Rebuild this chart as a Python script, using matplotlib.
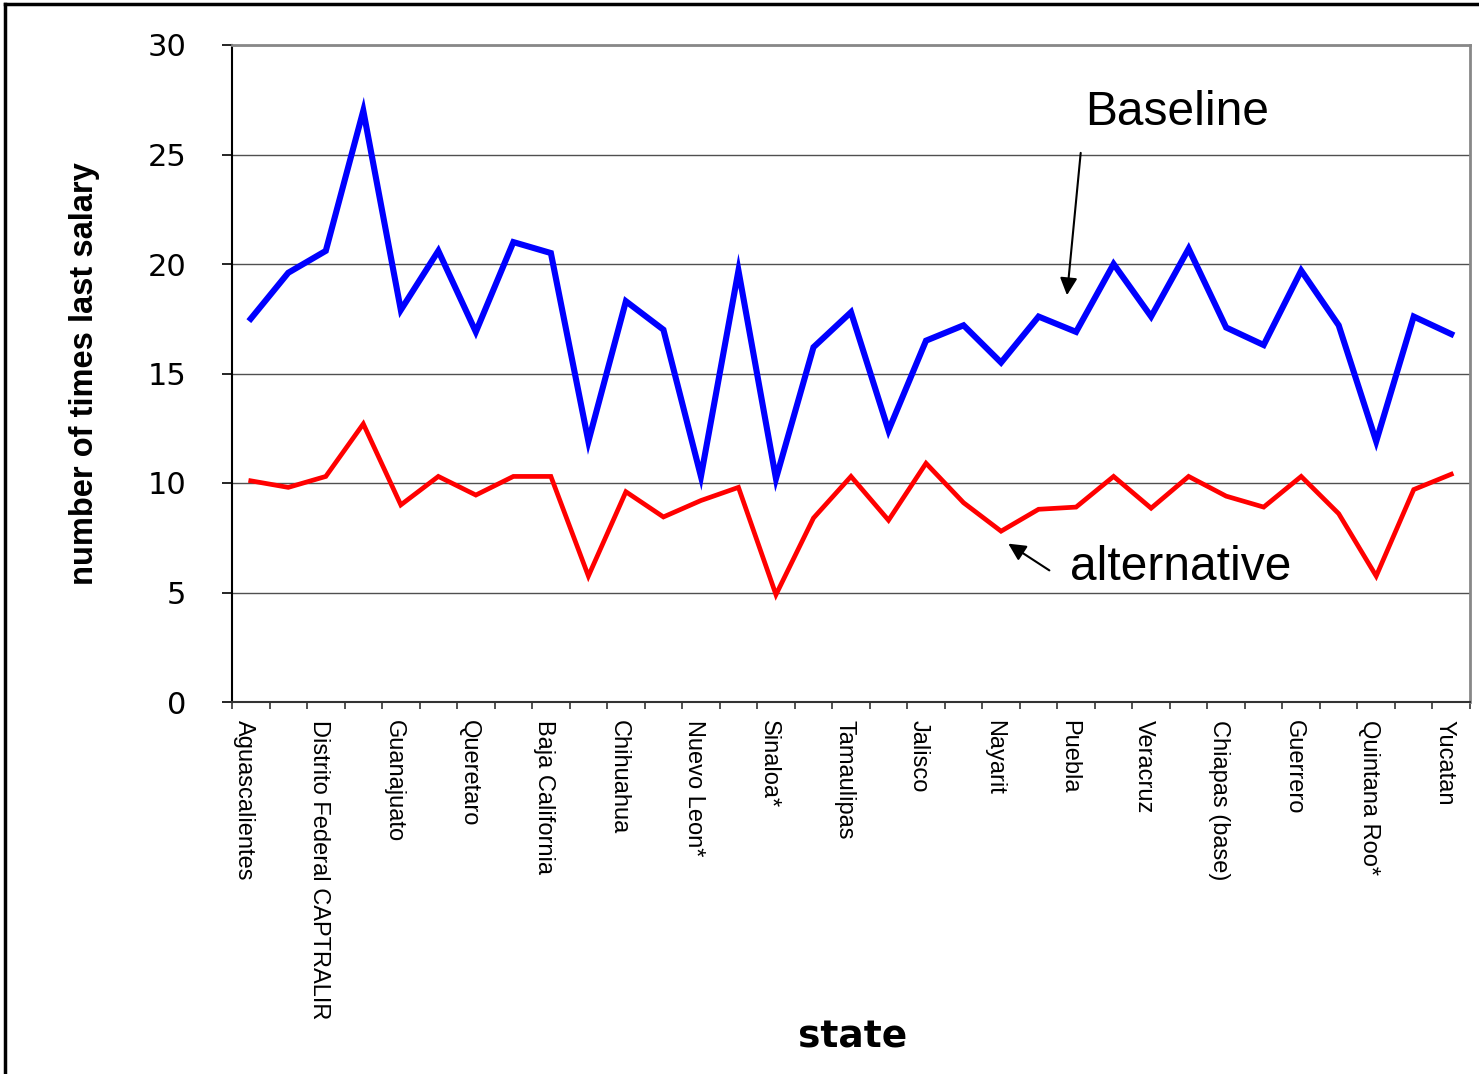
import numpy as np
import matplotlib
matplotlib.use("Agg")
import matplotlib.pyplot as plt
import matplotlib.transforms as mtransforms
from matplotlib.lines import Line2D
from matplotlib.ticker import FixedLocator

# Labelled states (every other category carries a label on the axis)
labelled_states = [
    "Aguascalientes", "Distrito Federal CAPTRALIR", "Guanajuato", "Queretaro",
    "Baja California", "Chihuahua", "Nuevo Leon*", "Sinaloa*", "Tamaulipas",
    "Jalisco", "Nayarit", "Puebla", "Veracruz", "Chiapas (base)", "Guerrero",
    "Quintana Roo*", "Yucatan",
]
n_categories = 33

baseline = [
    17.5, 19.6, 20.6, 27.0, 17.9, 20.6, 16.9, 21.0, 20.5, 11.9, 18.3,
    17.0, 10.3, 19.7, 10.2, 16.2, 17.8, 12.4, 16.5, 17.2, 15.5, 17.6,
    16.9, 20.0, 17.6, 20.7, 17.1, 16.3, 19.7, 17.2, 11.9, 17.6, 16.8,
]
alternative = [
    10.1, 9.8, 10.3, 12.7, 9.0, 10.3, 9.45, 10.3, 10.3, 5.75, 9.6,
    8.45, 9.2, 9.8, 4.9, 8.4, 10.3, 8.3, 10.9, 9.1, 7.8, 8.8,
    8.9, 10.3, 8.85, 10.3, 9.4, 8.9, 10.3, 8.6, 5.75, 9.7, 10.4,
]
y_ticks = [0, 5, 10, 15, 20, 25, 30]

narrow = ["Liberation Sans Narrow", "Liberation Sans", "DejaVu Sans"]
arial = ["Liberation Sans", "DejaVu Sans"]

fig = plt.figure(figsize=(14.79, 10.74), dpi=100)
ax = fig.add_axes([232 / 1479, 1 - 702 / 1074, (1470 - 232) / 1479, (702 - 45) / 1074])

x = np.arange(n_categories)
ax.plot(x, baseline, color="#0000ff", lw=4.4, solid_joinstyle="miter", zorder=3)
ax.plot(x, alternative, color="#ff0000", lw=3.4, solid_joinstyle="miter", zorder=3)

ax.set_xlim(-0.5, n_categories - 0.5)
ax.set_ylim(0, 30)

# horizontal gridlines
ax.yaxis.set_major_locator(FixedLocator(y_ticks))
ax.grid(axis="y", color="#505050", lw=1.0)
ax.set_axisbelow(True)

# y tick labels
ax.set_yticklabels([str(v) for v in y_ticks], family=["DejaVu Sans"], fontsize=22)
ax.tick_params(axis="y", direction="out", length=7, width=1.2, color="black", pad=26)

# category ticks at boundaries, labels at every other category centre
ax.set_xticks(np.arange(-0.5, n_categories, 1.0))
ax.set_xticklabels([])
ax.set_xticks(np.arange(0, n_categories, 2), minor=True)
ax.set_xticklabels(labelled_states, minor=True, rotation=270, family=narrow,
                   fontsize=17, va="top", ha="center")
ax.tick_params(axis="x", which="major", direction="out", length=5, width=1.2, color="#333333")
ax.tick_params(axis="x", which="minor", length=0, pad=13)
shift = mtransforms.ScaledTranslation(-7 / 100, 0, fig.dpi_scale_trans)
for lbl in ax.get_xticklabels(minor=True):
    lbl.set_transform(lbl.get_transform() + shift)

for side in ["top", "right"]:
    ax.spines[side].set_color("#888888")
    ax.spines[side].set_linewidth(2)
ax.spines["left"].set_color("black")
ax.spines["left"].set_linewidth(1.5)
ax.spines["bottom"].set_color("#333333")
ax.spines["bottom"].set_linewidth(1.5)

ax.set_ylabel("number of times last salary", family=narrow, fontweight="bold",
              fontsize=23.5)
ax.yaxis.set_label_coords(-0.107, 0.5)
fig.text(853 / 1479, 1 - 1037 / 1074, "state", family=["DejaVu Sans"], fontweight="bold",
         fontsize=27, ha="center", va="center")

# series annotations
ax.annotate("", xy=(21.75, 18.45), xytext=(22.13, 25.2),
            arrowprops=dict(arrowstyle="-|>", color="black", lw=1.5, mutation_scale=26))
ax.text(24.69, 26.9, "Baseline", family=arial, fontsize=34.5, ha="center", va="center")
ax.annotate("", xy=(20.13, 7.3), xytext=(21.35, 5.94),
            arrowprops=dict(arrowstyle="-|>", color="black", lw=1.5, mutation_scale=26))
ax.text(24.79, 6.16, "alternative", family=arial, fontsize=34.5, ha="center", va="center")

# outer frame along the left and top edges
fig.add_artist(Line2D([5 / 1479, 5 / 1479], [0, 1 - 4 / 1074], transform=fig.transFigure,
                      color="black", lw=2.5))
fig.add_artist(Line2D([5 / 1479, 1], [1 - 4 / 1074, 1 - 4 / 1074], transform=fig.transFigure,
                      color="black", lw=2.5))

fig.savefig("out.png", dpi=100)
